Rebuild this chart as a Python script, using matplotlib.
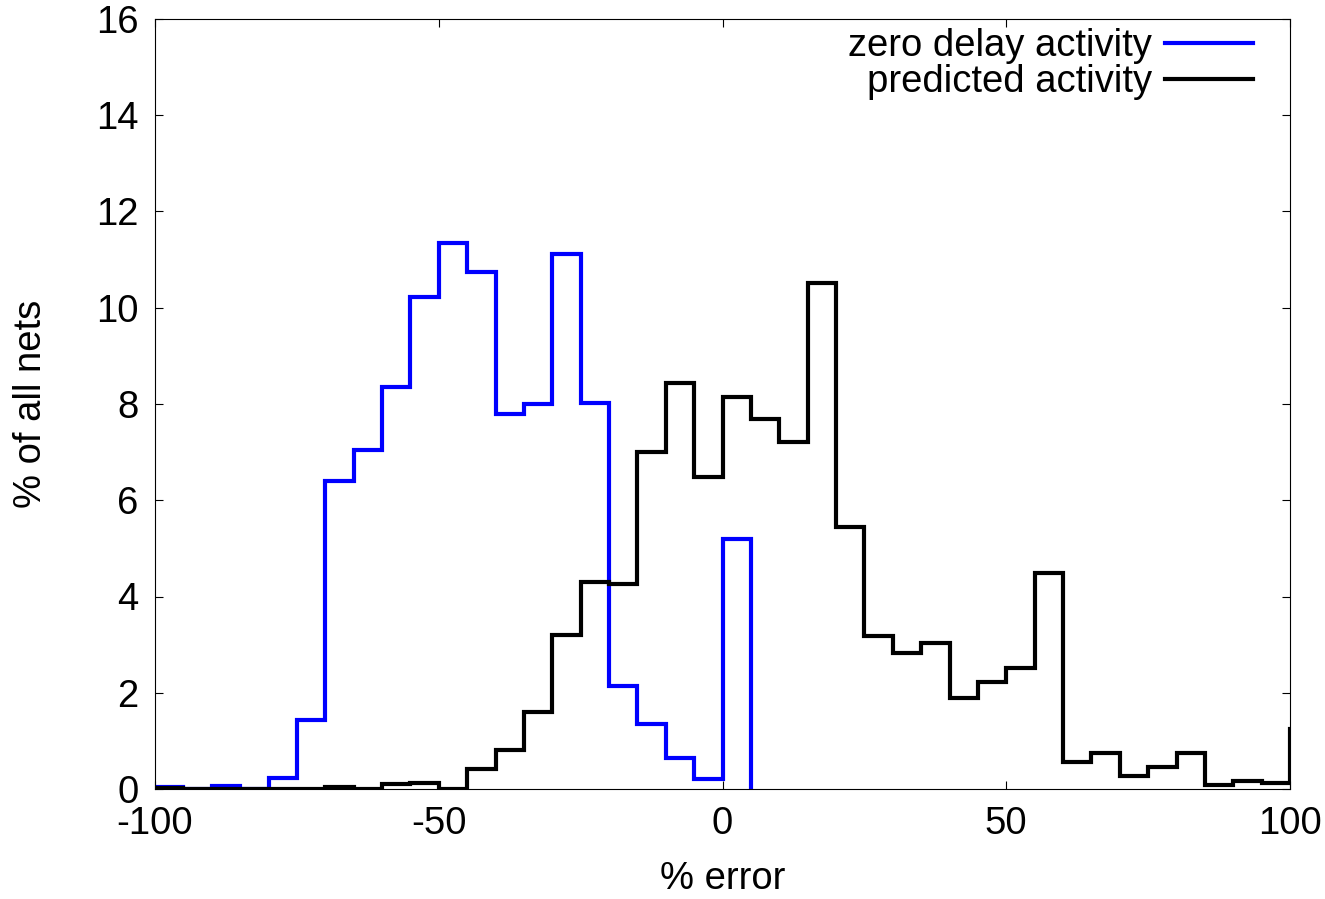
import numpy as np
import matplotlib.pyplot as plt

plt.rcParams['font.family'] = ['Liberation Sans', 'DejaVu Sans']
plt.rcParams['axes.unicode_minus'] = False

# bin edges (% error), 5% wide
zero_edges = np.arange(-100, 10, 5)      # -100 .. 5
pred_edges = np.arange(-100, 110, 5)     # -100 .. 105 (last bin clipped at 100)

# zero delay activity, bins -100 .. 0
zero_delay = [0.05, 0.0, 0.07, 0.0, 0.22, 1.43, 6.40, 7.04, 8.36, 10.22,
              11.34, 10.75, 7.79, 7.99, 11.12, 8.03, 2.15, 1.36, 0.64, 0.20,
              5.19]

# predicted activity, bins -100 .. 100
predicted = [0.02, 0.0, 0.0, 0.0, 0.0, 0.0, 0.05, 0.0, 0.10, 0.13,
             0.0, 0.41, 0.81, 1.59, 3.20, 4.31, 4.25, 7.00, 8.43, 6.48,
             8.14, 7.69, 7.22, 10.52, 5.44, 3.18, 2.82, 3.03, 1.90, 2.23,
             2.52, 4.48, 0.57, 0.75, 0.27, 0.45, 0.75, 0.08, 0.17, 0.13,
             1.24]

fig = plt.figure(figsize=(13.25, 8.99), dpi=100)
ax = fig.add_axes([155/1325, 1 - 789/899, 1135/1325, 770/899])

ax.stairs(zero_delay, zero_edges, baseline=0, color='#0000ff', lw=3,
          label='zero delay activity')
ax.stairs(predicted, pred_edges, baseline=0, color='black', lw=3,
          label='predicted activity')

ax.set_xlim(-100, 100)
ax.set_ylim(0, 16)
ax.set_xticks([-100, -50, 0, 50, 100])
ax.set_yticks(np.arange(0, 17, 2))
ax.tick_params(direction='in', length=6, width=0.8, labelsize=27.5,
               top=True, right=True, pad=12)
for s in ax.spines.values():
    s.set_linewidth(0.8)

ax.set_xlabel('% error', fontsize=27.5, labelpad=14)
ax.set_ylabel('% of all nets', fontsize=27.5, labelpad=34)

ax.legend(loc='upper right', bbox_to_anchor=(0.9674, 0.988), frameon=False,
          fontsize=27.5, markerfirst=False, handlelength=2.3,
          handletextpad=0.35, labelspacing=0.0, borderpad=0, borderaxespad=0)

fig.savefig('out.png', dpi=100)
